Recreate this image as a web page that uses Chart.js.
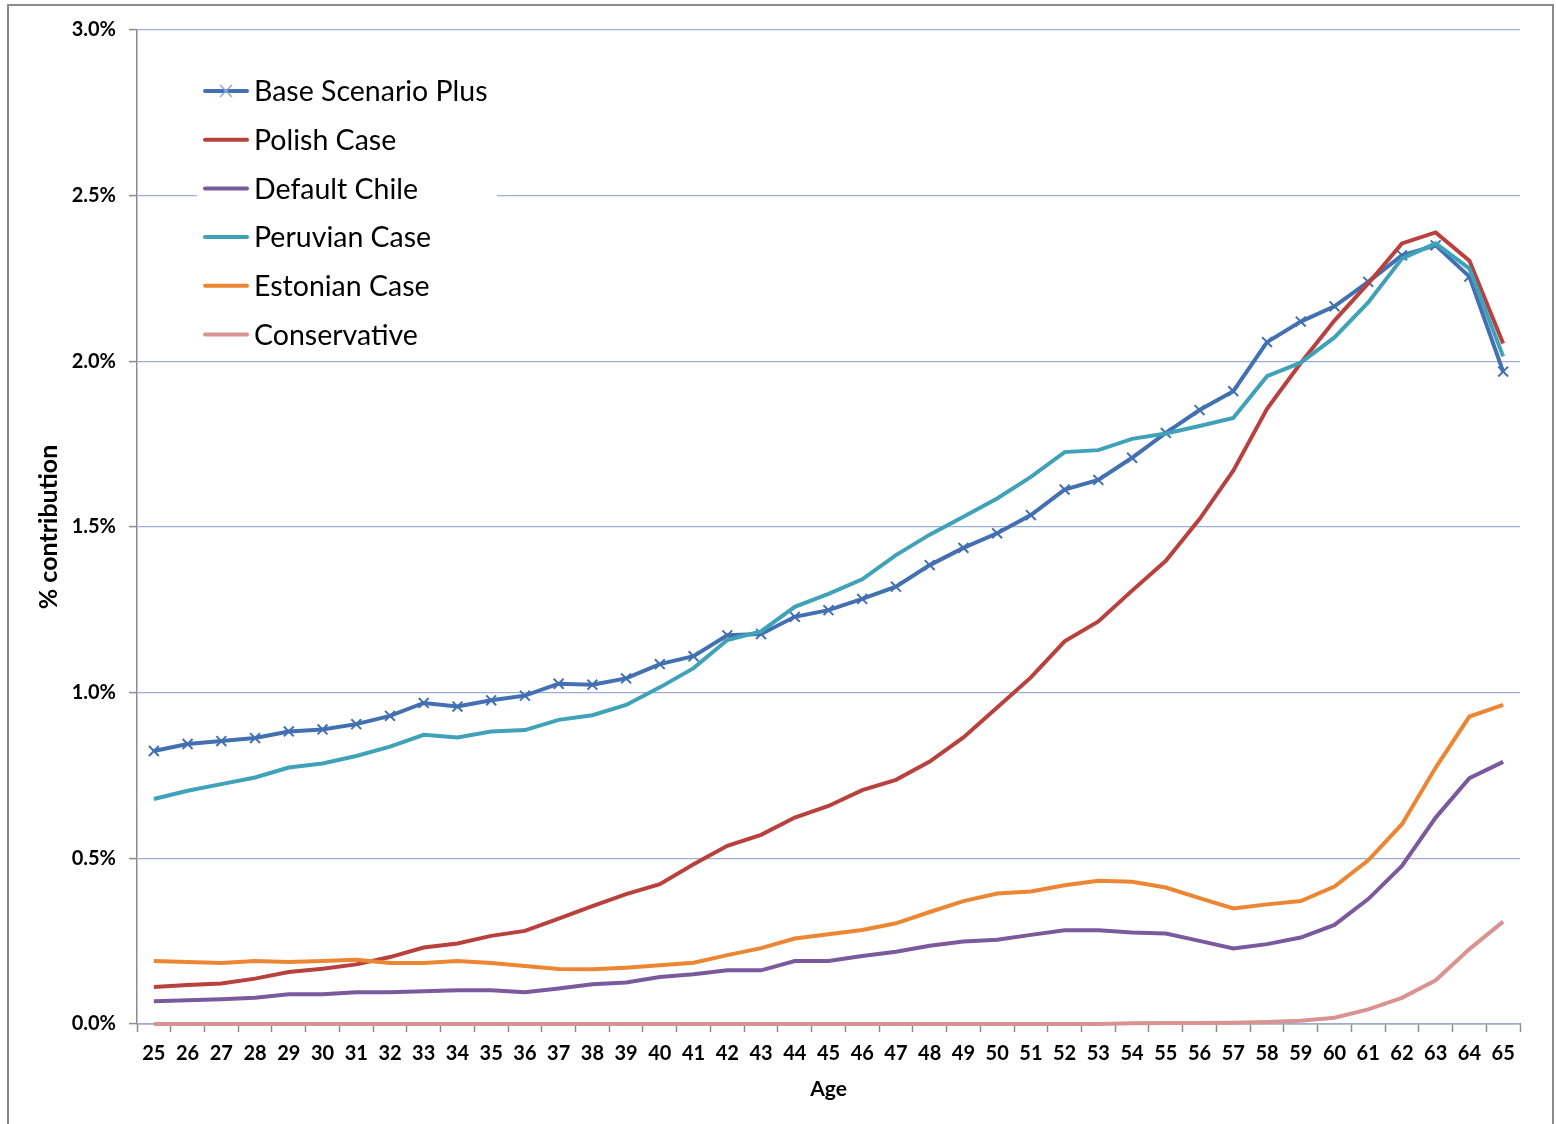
<!DOCTYPE html>
<html>
<head>
<meta charset="utf-8">
<script src="https://cdn.jsdelivr.net/npm/chart.js@4.4.1/dist/chart.umd.min.js"></script>
<style>
  html, body { margin: 0; padding: 0; background: #ffffff; }
  #wrap { position: relative; width: 1556px; height: 1124px; }
</style>
</head>
<body>
<div id="wrap"><canvas id="c" width="1556" height="1124"></canvas></div>
<script>
// Age categories on the x axis
const ages = ['25','26','27','28','29','30','31','32','33','34','35','36','37','38','39','40',
              '41','42','43','44','45','46','47','48','49','50','51','52','53','54','55','56',
              '57','58','59','60','61','62','63','64','65'];

// Contribution by age, in percent
const baseScenarioPlus = [0.824,0.845,0.854,0.863,0.883,0.889,0.905,0.930,0.969,0.958,
                          0.977,0.991,1.027,1.024,1.043,1.086,1.110,1.173,1.177,1.229,
                          1.249,1.283,1.320,1.385,1.437,1.481,1.536,1.613,1.642,1.709,
                          1.784,1.853,1.910,2.058,2.120,2.166,2.240,2.320,2.350,2.256,1.969];
const polishCase = [0.112,0.118,0.122,0.137,0.157,0.167,0.180,0.202,0.231,0.243,
                    0.266,0.281,0.318,0.356,0.392,0.422,0.482,0.538,0.571,0.623,
                    0.658,0.706,0.737,0.792,0.865,0.955,1.046,1.155,1.215,1.308,
                    1.398,1.524,1.670,1.857,1.995,2.123,2.235,2.356,2.389,2.304,2.054];
const defaultChile = [0.069,0.072,0.075,0.079,0.090,0.090,0.096,0.096,0.099,0.102,
                      0.102,0.096,0.107,0.120,0.125,0.142,0.150,0.162,0.162,0.190,
                      0.190,0.205,0.218,0.236,0.249,0.254,0.269,0.283,0.283,0.276,
                      0.273,0.251,0.228,0.241,0.261,0.299,0.377,0.477,0.623,0.742,0.791];
const peruvianCase = [0.679,0.704,0.724,0.744,0.774,0.786,0.809,0.837,0.873,0.865,
                      0.883,0.887,0.918,0.932,0.963,1.016,1.074,1.159,1.185,1.259,
                      1.298,1.342,1.415,1.477,1.531,1.586,1.651,1.726,1.732,1.766,
                      1.782,1.805,1.829,1.955,1.996,2.072,2.178,2.310,2.356,2.280,2.015];
const estonianCase = [0.190,0.187,0.184,0.190,0.187,0.190,0.194,0.184,0.184,0.190,
                      0.184,0.175,0.166,0.165,0.170,0.177,0.185,0.208,0.229,0.258,
                      0.271,0.284,0.304,0.338,0.371,0.394,0.400,0.419,0.432,0.429,
                      0.412,0.380,0.349,0.361,0.371,0.415,0.494,0.603,0.774,0.928,0.963];
const conservative = [0,0,0,0,0,0,0,0,0,0,
                      0,0,0,0,0,0,0,0,0,0,
                      0,0,0,0,0,0,0,0,0,0.002,
                      0.003,0.003,0.004,0.006,0.010,0.019,0.044,0.079,0.132,0.226,0.309];

// Y axis range and tick step, in percent
const yMin = 0, yMax = 3, yStep = 0.5;

const seriesNames = ['Base Scenario Plus','Polish Case','Default Chile','Peruvian Case','Estonian Case','Conservative'];
const seriesValues = [baseScenarioPlus, polishCase, defaultChile, peruvianCase, estonianCase, conservative];
const seriesColors = ['#4270b1','#b9413d','#7a5a9c','#3fa2b9','#ec8632','#d99393'];

const FONT = "Lato, 'Open Sans', 'DejaVu Sans', sans-serif";

const datasets = seriesNames.map((name, i) => ({
  label: name,
  data: seriesValues[i],
  borderColor: seriesColors[i],
  backgroundColor: seriesColors[i],
  borderWidth: 4,
  tension: 0,
  fill: false,
  clip: false,
  pointStyle: 'crossRot',
  pointRadius: i === 0 ? 7 : 0,
  pointHoverRadius: i === 0 ? 7 : 0,
  pointBorderWidth: 2,
  pointBorderColor: seriesColors[i],
  order: -i
}));

// Outer frame around the whole chart
const framePlugin = {
  id: 'frame',
  beforeDraw(chart) {
    const ctx = chart.ctx;
    ctx.save();
    ctx.fillStyle = '#ffffff';
    ctx.fillRect(0, 0, chart.width, chart.height);
    ctx.strokeStyle = '#8a8a8a';
    ctx.lineWidth = 2;
    ctx.strokeRect(8, 5, 1545, 1200);
    ctx.restore();
  }
};

// Legend drawn inside the plot area, on a white box
const insideLegend = {
  id: 'insideLegend',
  afterDraw(chart) {
    const ctx = chart.ctx;
    ctx.save();
    ctx.fillStyle = '#ffffff';
    ctx.fillRect(197, 64, 300, 292);
    ctx.font = '28.5px ' + FONT;
    ctx.textBaseline = 'middle';
    ctx.textAlign = 'left';
    chart.data.datasets.forEach((ds, i) => {
      const y = 91 + i * 48.7;
      ctx.strokeStyle = ds.borderColor;
      ctx.lineWidth = 4;
      ctx.lineCap = 'round';
      ctx.beginPath();
      ctx.moveTo(205, y);
      ctx.lineTo(247, y);
      ctx.stroke();
      if (ds.pointRadius > 0) {
        const r = 6;
        ctx.strokeStyle = '#8fa9d4';
        ctx.lineWidth = 1.5;
        ctx.lineCap = 'butt';
        ctx.beginPath();
        ctx.moveTo(226 - r, y - r); ctx.lineTo(226 + r, y + r);
        ctx.moveTo(226 - r, y + r); ctx.lineTo(226 + r, y - r);
        ctx.stroke();
      }
      ctx.fillStyle = '#000000';
      ctx.fillText(ds.label, 254, y + 1);
    });
    ctx.restore();
  }
};

new Chart(document.getElementById('c'), {
  type: 'line',
  data: { labels: ages, datasets },
  plugins: [framePlugin, insideLegend],
  options: {
    responsive: false,
    animation: false,
    devicePixelRatio: 1,
    layout: { padding: { left: 20, top: 30, right: 36, bottom: 10 } },
    plugins: {
      legend: { display: false },
      tooltip: { enabled: false }
    },
    scales: {
      x: {
        type: 'category',
        offset: true,
        afterFit(scale) { scale.height = 90; },
        grid: {
          offset: true,
          drawOnChartArea: false,
          drawTicks: true,
          tickLength: 8,
          tickColor: '#8c8c8c',
          tickWidth: 1.5
        },
        border: { color: '#8c8c8c', width: 1.5, z: -1 },
        ticks: {
          color: '#000000',
          font: { family: FONT, size: 20, weight: 'bold' },
          padding: 10,
          maxRotation: 0,
          autoSkip: false
        },
        title: {
          display: true,
          text: 'Age',
          color: '#000000',
          font: { family: FONT, size: 21, weight: 'bold' },
          padding: { top: 0, bottom: 12 }
        }
      },
      y: {
        min: yMin,
        max: yMax,
        afterFit(scale) { scale.width = 117; },
        grid: {
          color: '#9aaed3',
          lineWidth: 1.2,
          drawTicks: true,
          tickLength: 8,
          tickColor: '#8c8c8c',
          tickWidth: 1.5
        },
        border: { color: '#8c8c8c', width: 1.5 },
        ticks: {
          stepSize: yStep,
          color: '#000000',
          font: { family: FONT, size: 20, weight: 'bold' },
          padding: 13,
          callback: v => v.toFixed(1) + '%'
        },
        title: {
          display: true,
          text: '% contribution',
          color: '#000000',
          font: { family: FONT, size: 25, weight: 'bold' },
          padding: { top: 14, bottom: 0 }
        }
      }
    }
  }
});
</script>
</body>
</html>
